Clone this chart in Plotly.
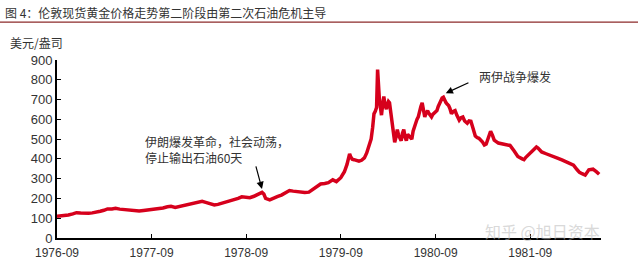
import plotly.graph_objects as go

title_text = "图 4：伦敦现货黄金价格走势第二阶段由第二次石油危机主导"
unit_text = "美元/盎司"
note1 = "伊朗爆发革命，社会动荡，<br>停止输出石油60天"
note2 = "两伊战争爆发"
watermark = "知乎 @旭日资本"

dates = [
    "1976-09-01","1976-09-15","1976-10-01","1976-10-15","1976-11-01","1976-11-15","1976-12-01","1976-12-15",
    "1977-01-01","1977-01-15","1977-02-01","1977-02-15","1977-03-01","1977-03-15","1977-04-01","1977-04-15",
    "1977-05-01","1977-05-15","1977-06-01","1977-06-15","1977-07-01","1977-07-15","1977-08-01","1977-08-15",
    "1977-09-01","1977-09-15","1977-10-01","1977-10-15","1977-11-01","1977-11-15","1977-12-01","1977-12-15",
    "1978-01-01","1978-01-15","1978-02-01","1978-02-15","1978-03-01","1978-03-15","1978-04-01","1978-04-15",
    "1978-05-01","1978-05-15","1978-06-01","1978-06-15","1978-07-01","1978-07-15","1978-08-01","1978-08-15",
    "1978-09-01","1978-09-15","1978-10-01","1978-10-15","1978-11-01","1978-11-08","1978-11-15","1978-12-01",
    "1978-12-15","1979-01-01","1979-01-15","1979-02-01","1979-02-15","1979-03-01","1979-03-15","1979-04-01",
    "1979-04-15","1979-05-01","1979-05-15","1979-06-01","1979-06-15","1979-07-01","1979-07-15","1979-08-01",
    "1979-08-15","1979-09-01","1979-09-15","1979-09-25","1979-10-01","1979-10-05","1979-10-10","1979-10-15",
    "1979-10-22","1979-11-01","1979-11-10","1979-11-20","1979-12-01","1979-12-10","1979-12-20","1979-12-27",
    "1980-01-02","1980-01-07","1980-01-12","1980-01-17","1980-01-21","1980-01-24","1980-01-28","1980-02-01",
    "1980-02-05","1980-02-10","1980-02-14","1980-02-19","1980-02-24","1980-02-28","1980-03-03","1980-03-07",
    "1980-03-11","1980-03-15","1980-03-19","1980-03-24","1980-03-27","1980-04-01","1980-04-06","1980-04-11",
    "1980-04-16","1980-04-21","1980-04-26","1980-05-01","1980-05-06","1980-05-11","1980-05-16","1980-05-21",
    "1980-05-26","1980-06-01","1980-06-06","1980-06-11","1980-06-16","1980-06-21","1980-06-26","1980-07-01",
    "1980-07-06","1980-07-11","1980-07-16","1980-07-21","1980-07-26","1980-08-01","1980-08-06","1980-08-11",
    "1980-08-16","1980-08-21","1980-08-26","1980-09-01","1980-09-06","1980-09-11","1980-09-16","1980-09-21",
    "1980-09-26","1980-10-01","1980-10-06","1980-10-11","1980-10-16","1980-10-21","1980-10-26","1980-11-01",
    "1980-11-08","1980-11-15","1980-11-22","1980-12-01","1980-12-08","1980-12-15","1980-12-22","1981-01-01",
    "1981-01-08","1981-01-15","1981-01-22","1981-02-01","1981-02-08","1981-02-15","1981-03-01","1981-03-08",
    "1981-03-15","1981-03-22","1981-04-01","1981-04-08","1981-04-15","1981-05-01","1981-05-15","1981-06-01",
    "1981-06-15","1981-07-01","1981-07-15","1981-08-01","1981-08-08","1981-08-15","1981-09-01","1981-09-15",
    "1981-09-25","1981-10-01","1981-10-15","1981-11-01","1981-11-15","1981-12-01","1981-12-15","1982-01-01",
    "1982-01-15","1982-02-01","1982-02-15","1982-03-01","1982-03-10","1982-03-20","1982-04-01","1982-04-15",
    "1982-05-01","1982-05-15","1982-05-25",
]
prices = [
    110,112,111,116,122,128,126,124,
    125,127,129,135,140,147,147,150,
    146,144,140,138,136,136,139,141,
    143,146,150,152,158,160,155,159,
    165,168,173,177,181,185,179,172,
    167,170,176,179,186,192,200,208,
    207,204,211,219,231,222,200,193,
    199,210,217,230,240,237,234,232,
    230,232,246,262,273,276,280,294,
    285,305,335,372,410,425,408,398,
    396,392,388,393,405,430,470,500,
    560,628,640,660,852,760,700,660,
    621,680,716,670,652,675,690,684,
    640,604,556,520,484,510,548,520,
    500,492,530,548,510,492,524,515,
    508,500,540,565,580,600,612,645,
    665,684,650,612,630,644,630,618,
    612,625,632,640,644,665,680,695,
    708,712,695,684,676,670,655,628,
    640,644,620,596,608,612,592,580,
    592,590,560,516,508,504,485,470,
    475,500,540,520,495,480,476,474,
    468,440,412,400,396,408,428,445,
    460,455,435,426,420,410,404,395,
    386,376,368,345,332,325,318,345,
    348,334,322,
]

tick_vals = ["1976-09-01","1977-09-01","1978-09-01","1979-09-01","1980-09-01","1981-09-01"]
tick_text = ["1976-09","1977-09","1978-09","1979-09","1980-09","1981-09"]
y_ticks = [0,100,200,300,400,500,600,700,800,900]

W, H = 638, 272
ML, MR, MT, MB = 57, 37, 60, 24
PW = W - ML - MR
PH = H - MT - MB

font_fam = "Liberation Sans, Arial, Noto Sans CJK SC, sans-serif"
cjk = "Noto Sans CJK SC, sans-serif"

fig = go.Figure()
fig.add_trace(go.Scatter(
    x=dates, y=prices, mode="lines",
    line=dict(color="#d6001c", width=3.5),
    hoverinfo="skip",
))

fig.update_layout(
    width=W, height=H,
    margin=dict(l=ML, r=MR, t=MT, b=MB),
    paper_bgcolor="white", plot_bgcolor="white",
    showlegend=False,
    font=dict(family=font_fam, size=12, color="#333333"),
    xaxis=dict(
        type="date", range=["1976-09-01", "1982-06-01"],
        tickvals=tick_vals, ticktext=tick_text,
        showgrid=False, zeroline=False,
        showline=True, linecolor="black", linewidth=2,
        ticks="inside", ticklen=4, tickcolor="black", tickwidth=1,
        ticklabelstandoff=3,
        tickfont=dict(family=font_fam, size=12, color="#333333"),
    ),
    yaxis=dict(
        range=[0, 900], tickvals=y_ticks,
        showgrid=False, zeroline=False,
        showline=True, linecolor="black", linewidth=2,
        ticks="inside", ticklen=4, tickcolor="black", tickwidth=1,
        tickfont=dict(family=font_fam, size=13, color="#333333"),
    ),
)

def px_x(px):
    return (px - ML) / PW

def px_y(py):
    return 1 - (py - MT) / PH

# title and underline
fig.add_annotation(text=title_text, xref="paper", yref="paper",
                   x=px_x(3), y=px_y(10), xanchor="left", yanchor="middle",
                   showarrow=False, font=dict(family=cjk, size=12, color="#333333"))
fig.add_shape(type="line", xref="paper", yref="paper",
              x0=px_x(0), x1=px_x(W), y0=px_y(20), y1=px_y(20),
              line=dict(color="#8c2a2a", width=1.2))
fig.add_annotation(text=unit_text, xref="paper", yref="paper",
                   x=px_x(8), y=px_y(41), xanchor="left", yanchor="middle",
                   showarrow=False, font=dict(family=cjk, size=12, color="#333333"))

# annotation 1
fig.add_annotation(text=note1, xref="paper", yref="paper",
                   x=px_x(143), y=px_y(155), xanchor="left", yanchor="middle",
                   align="left", showarrow=False,
                   font=dict(family=cjk, size=12, color="#333333"))
fig.add_annotation(x="1978-11-03", y=238, xref="x", yref="y", text="",
                   showarrow=True, arrowhead=2, arrowsize=1.2, arrowwidth=1.2,
                   arrowcolor="black", ax=-7, ay=-26, standoff=2)

# annotation 2
fig.add_annotation(text=note2, xref="paper", yref="paper",
                   x=px_x(477), y=px_y(77), xanchor="left", yanchor="middle",
                   showarrow=False, font=dict(family=cjk, size=12, color="#333333"))
fig.add_annotation(x="1980-10-03", y=728, xref="x", yref="y", text="",
                   showarrow=True, arrowhead=2, arrowsize=1.2, arrowwidth=1.2,
                   arrowcolor="black", ax=26, ay=-12, standoff=2)

# watermark
fig.add_annotation(text=watermark, xref="paper", yref="paper",
                   x=px_x(483), y=px_y(241), xanchor="left", yanchor="middle",
                   showarrow=False, opacity=0.55,
                   font=dict(family=cjk, size=16, color="#bbbbbb"))

fig.write_html("out.html")
